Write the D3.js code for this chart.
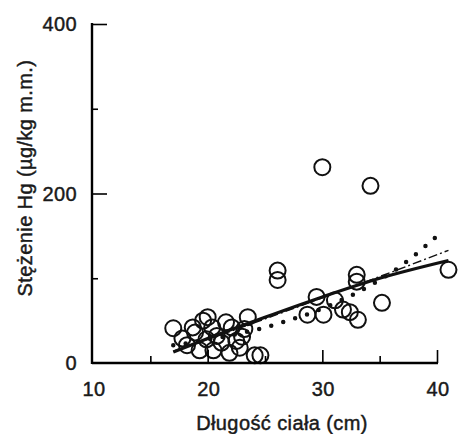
<!DOCTYPE html>
<html>
<head>
<meta charset="utf-8">
<script src="https://cdn.jsdelivr.net/npm/d3@7"></script>
<style>
  body { margin: 0; background: #fff; }
  text { font-family: "Liberation Sans", Arial, sans-serif; fill: #1a1a1a; stroke: #1a1a1a; stroke-width: 0.45; letter-spacing: 0.4px; }
</style>
</head>
<body>
<svg width="460" height="434"></svg>
<script>
// fish length (cm) and Hg concentration
var lengths = [17.0, 17.8, 18.7, 18.2, 19.3, 19.6, 20.0, 20.4, 20.8, 20.5, 21.2, 21.6, 22.1, 22.5, 22.8, 23.0, 23.5, 23.2, 24.1, 24.6, 18.9, 19.9, 21.9,
    26.1, 26.1, 28.7, 29.5, 30.1, 31.1, 31.8, 32.4, 33.0, 33.0, 33.1, 35.2, 41.0, 30.0, 34.2];
var hgValues = [41, 29, 42, 21, 15, 50, 54, 42, 32, 15, 24, 48, 42, 26, 18, 31, 54, 40, 9, 9, 36, 28, 12,
    109, 98, 57, 78, 57, 74, 63, 60, 104, 96, 51, 71, 110, 231, 209];

// fitted curves
var fitX = [17, 20, 25, 30, 35, 41];
var fitSolid = [13, 29, 54, 78, 100, 121];
var fitDashDot = [14, 28, 52, 77, 102, 133];
var expX = [17, 19, 21, 23, 25, 27, 29, 31, 33, 35, 37, 39, 40.5];
var expY = [21, 25, 30, 35.5, 42, 50, 59, 70, 83, 98, 116, 138, 156];

var xTicks = [10, 20, 30, 40];
var yTicks = [0, 200, 400];

var svg = d3.select("svg");

var x = d3.scaleLinear().domain([10, 40]).range([93, 437]);
var y = d3.scaleLinear().domain([0, 400]).range([363, 24]);

// circles
svg.selectAll("circle.pt")
    .data(lengths)
    .enter().append("circle")
    .attr("class", "pt")
    .attr("cx", function(d) { return x(d); })
    .attr("cy", function(d, i) { return y(hgValues[i]); })
    .attr("r", 8)
    .attr("fill", "none")
    .attr("stroke", "#111")
    .attr("stroke-width", 2);

var line = d3.line()
    .x(function(d) { return x(d[0]); })
    .y(function(d) { return y(d[1]); })
    .curve(d3.curveMonotoneX);

svg.append("path")
    .datum(d3.zip(expX, expY))
    .attr("d", line)
    .attr("fill", "none")
    .attr("stroke", "#111")
    .attr("stroke-width", 4.5)
    .attr("stroke-linecap", "round")
    .attr("stroke-dasharray", "0 12.5");

svg.append("path")
    .datum(d3.zip(fitX, fitDashDot))
    .attr("d", line)
    .attr("fill", "none")
    .attr("stroke", "#111")
    .attr("stroke-width", 1.4)
    .attr("stroke-dasharray", "9 3 2 3");

svg.append("path")
    .datum(d3.zip(fitX, fitSolid))
    .attr("d", line)
    .attr("fill", "none")
    .attr("stroke", "#111")
    .attr("stroke-width", 3.2);

// axes, ticks pointing inward
var xAxis = svg.append("g")
    .attr("transform", "translate(0," + y(0) + ")")
    .call(d3.axisBottom(x).tickValues([15, 20, 25, 30, 35, 40]).tickSize(-6).tickFormat(""));
xAxis.selectAll(".tick line")
    .attr("y2", function(d) { return d % 10 === 0 ? -13 : -7; })
    .attr("stroke-width", 1.6);
xAxis.select(".domain").attr("d", "M92,0H438").attr("stroke-width", 2.4);

var yAxis = svg.append("g")
    .attr("transform", "translate(" + 92 + ",0)")
    .call(d3.axisLeft(y).tickValues([100, 200, 300, 400]).tickSize(-6).tickFormat(""));
yAxis.selectAll(".tick line")
    .attr("x2", function(d) { return d % 200 === 0 ? 15 : 6; })
    .attr("stroke-width", 1.6);
yAxis.select(".domain").attr("d", "M0,23V364").attr("stroke-width", 2.4);

// tick labels
svg.selectAll("text.xl")
    .data(xTicks)
    .enter().append("text")
    .attr("x", function(d) { return x(d) + 1; })
    .attr("y", 396)
    .attr("text-anchor", "middle")
    .attr("font-size", 20)
    .text(function(d) { return d; });

svg.selectAll("text.yl")
    .data(yTicks)
    .enter().append("text")
    .attr("x", 77)
    .attr("y", function(d) { return y(d) + 7; })
    .attr("text-anchor", "end")
    .attr("font-size", 20)
    .text(function(d) { return d; });

// axis titles
svg.append("text")
    .attr("x", 282)
    .attr("y", 430)
    .attr("text-anchor", "middle")
    .attr("font-size", 20)
    .text("Długość ciała (cm)");

svg.append("text")
    .attr("transform", "translate(32,178) rotate(-90)")
    .attr("text-anchor", "middle")
    .attr("font-size", 20)
    .text("Stężenie Hg (µg/kg m.m.)");
</script>
</body>
</html>
